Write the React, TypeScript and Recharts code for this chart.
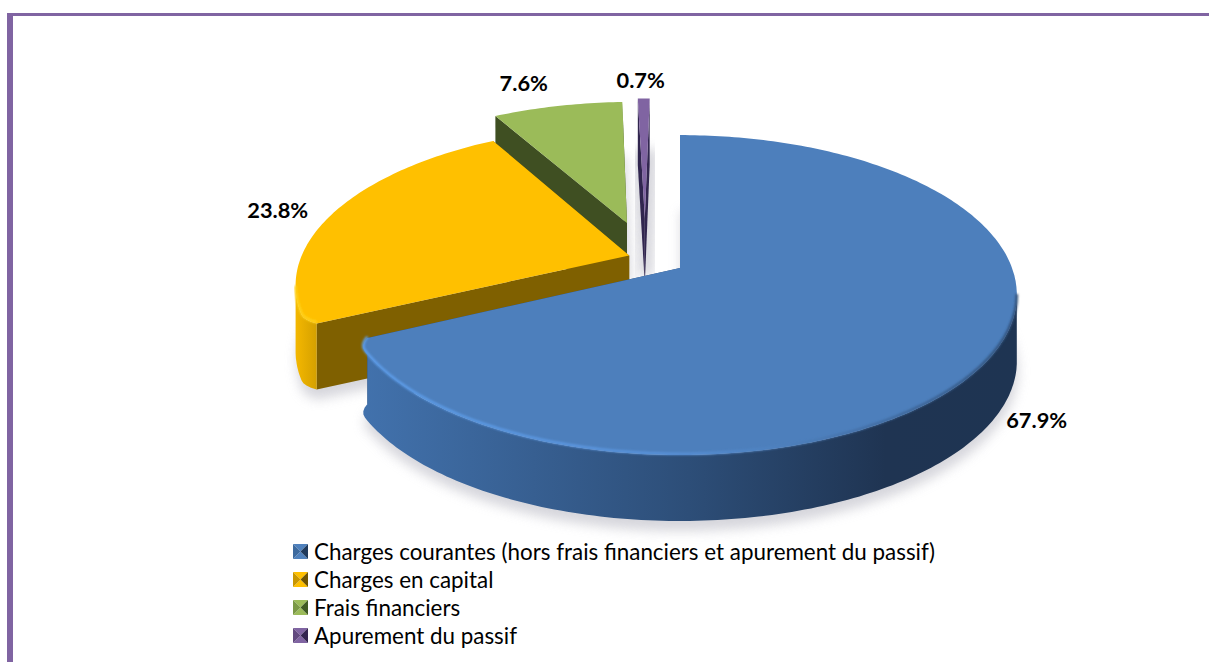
import React from "react";
import { PieChart, Pie, Legend } from "recharts";

const categories = [
  "Charges courantes (hors frais financiers et apurement du passif)",
  "Charges en capital",
  "Frais financiers",
  "Apurement du passif",
];
const shares = [67.9, 23.8, 7.6, 0.7];

// Painted back to front, so the table runs from the last slice to the first.
const rows = categories.map((name, i) => ({ name, value: shares[i], idx: i })).reverse();

const looks = [
  { top: "#4d7fbc", wall: "url(#blueWall)", cut: "#2a4a74", shift: [0, 0], nudge: [48, 60], trim: [0.03, 0], rim: "url(#blueRim)", shadowGrow: 0, shadowLift: 10, icon: ["#4f81bd", "#3d6a9e", "#1f3a5c"] },
  { top: "#ffc000", wall: "url(#goldWall)", cut: "#7f6000", shift: [-0.155, -0.0825], nudge: [-56, -3], trim: [0, 0.028], rim: "#ffd21f", shadowGrow: 0, shadowLift: 10, icon: ["#ffc000", "#c99700", "#6f5400"] },
  { top: "#9bbb59", wall: "#6f8a3c", cut: "#3f4f22", shift: [-0.168, -0.305], nudge: [-34, -24], trim: [0, 0], rim: "", shadowGrow: 6, shadowLift: -8, icon: ["#9bbb59", "#7a9846", "#3f5a22"] },
  { top: "#8064a2", wall: "#4d3a6b", cut: "#31264f", shift: [-0.112, -0.338], nudge: [-3, -19], trim: [0, 0], rim: "", shadowGrow: 14, shadowLift: -8, icon: ["#8064a2", "#62497f", "#33254f"] },
];

const PERSPECTIVE = 0.169;
const FLAT = 0.468;
const DEPTH = 66;
const RAD = Math.PI / 180;
const CX = 680;
const CY = 268;
const RADIUS = 332;
const TRIM_SPAN = 4;

type Pt = [number, number];

function project(cx: number, cy: number, r: number, angle: number, shift: number[], radial = 1): Pt {
  const u = radial * Math.cos(angle * RAD) + shift[0];
  const v = -radial * Math.sin(angle * RAD) + shift[1];
  const d = 1 - PERSPECTIVE * v;
  return [cx + (r * u) / d, cy + (FLAT * r * v) / d];
}

function arcSamples(p: any, look: any) {
  const a0 = p.startAngle;
  const a1 = p.endAngle;
  const n = Math.max(2, Math.ceil(Math.abs(a1 - a0)));
  const out: { pt: Pt; faces: boolean }[] = [];
  for (let i = 0; i <= n; i++) {
    const a = a0 + ((a1 - a0) * i) / n;
    const ds = Math.abs(a - a0) / TRIM_SPAN;
    const de = Math.abs(a1 - a) / TRIM_SPAN;
    let radial = 1;
    if (ds < 1) radial -= look.trim[0] * (1 - ds) * (1 - ds);
    if (de < 1) radial -= look.trim[1] * (1 - de) * (1 - de);
    const nu = Math.cos(a * RAD);
    const nv = -Math.sin(a * RAD);
    const faces = nv / PERSPECTIVE > 1 + nu * look.shift[0] + nv * look.shift[1];
    out.push({ pt: project(p.cx, p.cy, p.outerRadius, a, look.shift, radial), faces });
  }
  return out;
}

const path = (pts: Pt[], close = true) =>
  "M" + pts.map((q) => `${q[0].toFixed(1)} ${q[1].toFixed(1)}`).join("L") + (close ? "Z" : "");
const drop = (pts: Pt[]): Pt[] => pts.map((q) => [q[0], q[1] + DEPTH]);

function ShadowSlice(p: any) {
  const look = looks[p.payload.idx];
  const arc = arcSamples(p, look).map((s) => s.pt);
  const apex = project(p.cx, p.cy, p.outerRadius, 0, look.shift, 0);
  const pts = [apex, ...arc].map((q): Pt => [q[0] + 1, q[1] + DEPTH + look.shadowLift]);
  return (
    <path
      d={path(pts)}
      fill="#cfcfd6"
      stroke="#cfcfd6"
      strokeWidth={look.shadowGrow}
      opacity={0.85}
      filter="url(#softShadow)"
    />
  );
}

function Slice3D(p: any) {
  const look = looks[p.payload.idx];
  const samples = arcSamples(p, look);
  const arc = samples.map((s) => s.pt);
  const front = samples.filter((s) => s.faces).map((s) => s.pt);
  const apex = project(p.cx, p.cy, p.outerRadius, 0, look.shift, 0);
  const first = arc[0];
  const last = arc[arc.length - 1];
  const cutA = [apex, first, ...drop([first]), ...drop([apex])];
  const cutB = [apex, last, ...drop([last]), ...drop([apex])];
  const top = [apex, ...arc];
  return (
    <g>
      <path d={path(cutA)} fill={look.cut} />
      <path d={path(cutB)} fill={look.cut} />
      {front.length > 1 ? <path d={path([...front, ...drop(front).reverse()])} fill={look.wall} /> : null}
      <path d={path(top)} fill={look.top} />
      {look.rim && front.length > 1 ? (
        <path
          d={path(front.map((q): Pt => [q[0], q[1] - 1.2]), false)}
          fill="none"
          stroke={look.rim}
          strokeWidth={2.6}
          filter="url(#softRim)"
        />
      ) : null}
    </g>
  );
}

function ShareLabel(p: any) {
  const look = looks[p.payload?.idx ?? p.idx];
  const edge = project(p.cx, p.cy, p.outerRadius, p.midAngle, look.shift);
  return (
    <text
      x={edge[0] + look.nudge[0]}
      y={edge[1] + look.nudge[1]}
      textAnchor="middle"
      dominantBaseline="central"
      fontFamily="Lato, 'Open Sans', sans-serif"
      fontWeight={700}
      fontSize={21.8}
      fill="#000"
    >
      {p.value.toFixed(1)}%
    </text>
  );
}

function Pyramid({ colors }: { colors: string[] }) {
  return (
    <svg width={15} height={15} style={{ display: "block", flex: "none" }}>
      <polygon points="0,0 15,0 7.5,7.5" fill={colors[0]} />
      <polygon points="0,15 15,15 7.5,7.5" fill={colors[0]} />
      <polygon points="0,0 0,15 7.5,7.5" fill={colors[1]} />
      <polygon points="15,0 15,15 7.5,7.5" fill={colors[2]} />
    </svg>
  );
}

function LegendRows() {
  return (
    <div style={{ fontFamily: "Lato, 'Open Sans', sans-serif", fontSize: 22.4, color: "#000" }}>
      {categories.map((name, i) => (
        <div key={name} style={{ display: "flex", alignItems: "center", height: 28, whiteSpace: "nowrap" }}>
          <Pyramid colors={looks[i].icon} />
          <span style={{ marginLeft: 6 }}>{name}</span>
        </div>
      ))}
    </div>
  );
}

export default function App() {
  return (
    <div style={{ position: "absolute", left: 0, top: 0, width: 1209, height: 662, overflow: "hidden", background: "#fff" }}>
      <div style={{ position: "absolute", left: 7, top: 13, width: 6, height: 649, background: "#8064a2" }} />
      <div style={{ position: "absolute", left: 7, top: 13, width: 1202, height: 3, background: "#8064a2" }} />
      <div style={{ position: "absolute", left: 0, top: 0 }}>
        <PieChart width={1209} height={662} margin={{ top: 0, right: 0, bottom: 0, left: 0 }}>
          <defs>
            <linearGradient id="blueWall" gradientUnits="userSpaceOnUse" x1={CX - 320} y1={0} x2={CX + 337} y2={0}>
              <stop offset="0" stopColor="#4272ad" />
              <stop offset="0.5" stopColor="#2d4e78" />
              <stop offset="0.8" stopColor="#1f3452" />
              <stop offset="1" stopColor="#1e3452" />
            </linearGradient>
            <linearGradient id="goldWall" gradientUnits="userSpaceOnUse" x1={297} y1={0} x2={335} y2={0}>
              <stop offset="0" stopColor="#f2b600" />
              <stop offset="1" stopColor="#b98c00" />
            </linearGradient>
            <linearGradient id="blueRim" gradientUnits="userSpaceOnUse" x1={CX - 320} y1={0} x2={CX + 337} y2={0}>
              <stop offset="0" stopColor="#5e9fec" />
              <stop offset="0.45" stopColor="#5a94dc" />
              <stop offset="0.65" stopColor="#4d7fbc" />
              <stop offset="1" stopColor="#2f4f78" />
            </linearGradient>
            <filter id="softShadow" x="-30%" y="-30%" width="160%" height="160%">
              <feGaussianBlur stdDeviation="6" />
            </filter>
            <filter id="softRim" x="-5%" y="-5%" width="110%" height="110%">
              <feGaussianBlur stdDeviation="0.9" />
            </filter>
          </defs>
          <Pie
            data={rows}
            dataKey="value"
            nameKey="name"
            cx={CX}
            cy={CY}
            innerRadius={0}
            outerRadius={RADIUS}
            startAngle={-270}
            endAngle={90}
            stroke="none"
            shape={ShadowSlice}
            label={false}
            labelLine={false}
            isAnimationActive={false}
          />
          <Pie
            data={rows}
            dataKey="value"
            nameKey="name"
            cx={CX}
            cy={CY}
            innerRadius={0}
            outerRadius={RADIUS}
            startAngle={-270}
            endAngle={90}
            stroke="none"
            shape={Slice3D}
            label={ShareLabel}
            labelLine={false}
            isAnimationActive={false}
          />
          <Legend content={<LegendRows />} wrapperStyle={{ position: "absolute", left: 293, top: 537, width: 700, bottom: "auto" }} />
        </PieChart>
      </div>
    </div>
  );
}
